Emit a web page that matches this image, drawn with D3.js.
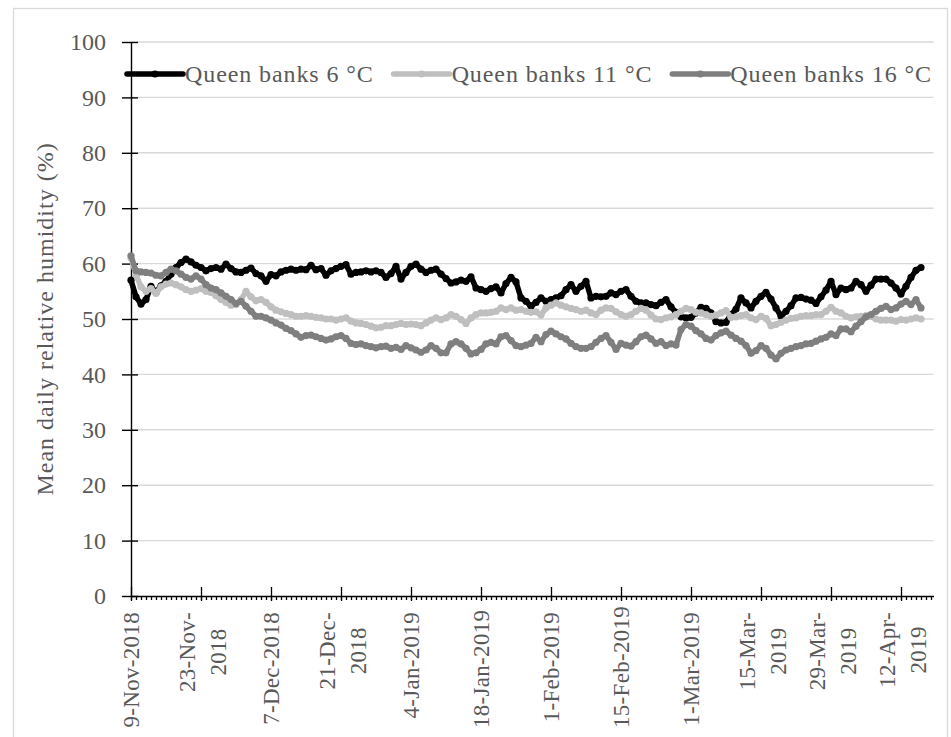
<!DOCTYPE html>
<html>
<head>
<meta charset="utf-8">
<script src="https://cdn.jsdelivr.net/npm/d3@7"></script>
<style>
  html, body { margin: 0; padding: 0; background: #ffffff; }
  svg { display: block; font-family: "Liberation Serif", "Times New Roman", serif; }
</style>
</head>
<body>
<svg id="chart" width="951" height="737"></svg>
<script>
// Daily series, one value per day starting on the first date below
const firstDay = "2018-11-09";
const seriesNames = ["Queen banks 6 °C", "Queen banks 11 °C", "Queen banks 16 °C"];

const rh6 = [
  57.0, 54.0, 52.7, 53.5, 55.9, 54.8, 56.0, 56.8, 58.1, 59.3,
  60.2, 60.8, 60.3, 59.7, 59.3, 58.7, 59.1, 59.3, 59.0, 59.9,
  59.1, 58.5, 58.4, 58.8, 59.2, 58.2, 57.8, 56.8, 58.0, 57.8,
  58.5, 58.8, 59.0, 58.8, 59.0, 58.9, 59.7, 58.9, 59.1, 57.9,
  58.7, 59.1, 59.5, 59.8, 58.1, 58.4, 58.5, 58.7, 58.5, 58.7,
  58.4, 57.5, 58.2, 59.5, 57.2, 58.4, 59.5, 59.9, 59.0, 58.4,
  58.8, 59.0, 58.1, 57.3, 56.5, 56.7, 57.0, 56.8, 57.6, 55.6,
  55.3, 55.0, 55.5, 55.8, 54.7, 56.4, 57.5, 56.7, 53.8, 53.2,
  52.3, 53.0, 53.8, 53.2, 53.5, 53.8, 54.2, 55.3, 56.2, 55.0,
  55.9, 56.8, 53.8, 54.1, 54.0, 54.1, 54.7, 54.4, 55.0, 55.3,
  54.1, 53.2, 52.9, 52.9, 52.6, 52.4, 53.0, 53.5, 52.2, 51.2,
  50.4, 50.2, 50.3, 51.1, 52.1, 51.9, 51.1, 49.5, 49.3, 49.4,
  50.8, 51.8, 53.8, 52.9, 52.0, 53.2, 54.1, 54.8, 53.6, 52.0,
  50.5, 51.4, 52.4, 53.8, 53.9, 53.6, 53.4, 52.8, 54.0, 55.2,
  56.8, 54.4, 55.6, 55.3, 55.6, 56.8, 56.2, 55.0, 56.1, 57.2,
  57.2, 57.2, 56.5, 55.6, 54.5, 55.9, 57.5, 58.8, 59.3
];

const rh11 = [
  61.0, 58.0, 55.8, 55.0, 55.5, 54.6, 55.8, 56.3, 56.5, 56.2,
  55.8, 55.3, 55.0, 55.2, 55.5, 55.0, 54.8, 54.2, 53.5, 53.0,
  52.5, 52.6, 53.5, 55.0, 54.0, 53.3, 53.5, 53.0, 52.2, 51.6,
  51.3, 51.0, 50.8, 50.5, 50.5, 50.6, 50.5, 50.3, 50.2, 50.0,
  50.0, 49.8, 50.0, 50.2, 49.6, 49.3, 49.2, 49.0, 48.7, 48.4,
  48.5, 48.8, 48.8, 49.0, 49.2, 49.0, 49.1, 49.0, 48.8, 49.3,
  49.8, 50.2, 49.9, 50.2, 50.8, 50.5, 49.9, 49.2, 50.2, 50.8,
  51.1, 51.1, 51.2, 51.4, 52.0, 51.7, 52.0, 51.6, 51.7, 51.4,
  51.2, 51.3, 50.7, 52.0, 52.5, 52.9, 52.5, 52.2, 51.9, 51.7,
  51.4, 51.6, 51.1, 50.8, 51.6, 52.0, 51.9, 51.3, 50.8, 50.5,
  50.8, 51.4, 51.9, 51.6, 50.7, 50.0, 49.9, 50.2, 50.4, 50.8,
  51.4, 51.9, 51.7, 51.2, 51.1, 50.8, 50.5, 50.7, 51.1, 51.5,
  50.3, 50.4, 50.6, 50.8, 50.2, 49.9, 50.5, 50.1, 48.8, 49.0,
  49.4, 49.8, 50.1, 50.2, 50.5, 50.6, 50.6, 50.8, 50.8, 51.4,
  52.1, 51.4, 51.1, 50.5, 50.2, 50.4, 50.5, 50.6, 50.5, 50.0,
  49.8, 49.8, 49.8, 49.6, 49.9, 49.8, 50.0, 50.2, 50.0
];

const rh16 = [
  61.4, 58.7, 58.5, 58.4, 58.3, 57.9, 57.8, 58.4, 59.0, 58.7,
  58.1, 57.5, 57.2, 57.8, 57.2, 56.2, 55.6, 55.3, 54.7, 54.1,
  53.5, 52.8, 53.2, 52.3, 51.4, 50.5, 50.5, 50.2, 49.8, 49.3,
  48.9, 48.3, 47.9, 47.3, 46.7, 47.0, 47.1, 46.8, 46.5, 46.2,
  46.4, 46.8, 47.0, 46.5, 45.6, 45.4, 45.5, 45.2, 45.0, 44.8,
  45.0, 45.1, 44.7, 44.9, 44.5, 45.2, 44.8, 44.4, 44.0, 44.4,
  45.2, 44.7, 43.9, 43.9, 45.5, 45.9, 45.5, 44.7, 43.7, 43.9,
  44.5, 45.5, 45.8, 45.5, 46.8, 47.0, 46.1, 45.2, 45.0, 45.3,
  45.6, 46.7, 45.9, 47.2, 47.8, 47.3, 46.8, 46.4, 45.6, 45.0,
  44.7, 44.7, 45.0, 45.8, 46.5, 47.0, 45.8, 44.5, 45.6, 45.3,
  45.1, 45.9, 46.8, 47.1, 46.4, 45.6, 45.9, 45.2, 45.5, 45.3,
  48.1, 49.0, 48.7, 47.9, 47.3, 46.5, 46.2, 47.0, 47.5, 47.8,
  47.1, 46.5, 46.0, 45.2, 43.8, 44.3, 45.2, 44.7, 43.5, 42.8,
  43.8, 44.4, 44.7, 45.0, 45.2, 45.5, 45.6, 46.0, 46.4, 46.7,
  47.3, 47.0, 48.2, 48.2, 47.7, 48.7, 49.5, 50.4, 50.8, 51.4,
  51.9, 52.3, 51.7, 52.0, 52.7, 53.2, 52.6, 53.5, 52.0
];

const seriesColors = ["#000000", "#bfbfbf", "#7f7f7f"];

const yTicks = [0, 10, 20, 30, 40, 50, 60, 70, 80, 90, 100];
const yTitle = "Mean daily relative humidity (%)";

// Labelled dates on the time axis, with the line breaks used when they wrap
const tickDates = [
  "2018-11-09", "2018-11-23", "2018-12-07", "2018-12-21", "2019-01-04", "2019-01-18",
  "2019-02-01", "2019-02-15", "2019-03-01", "2019-03-15", "2019-03-29", "2019-04-12"
];
const tickLabels = [
  ["9-Nov-2018"], ["23-Nov-", "2018"], ["7-Dec-2018"], ["21-Dec-", "2018"],
  ["4-Jan-2019"], ["18-Jan-2019"], ["1-Feb-2019"], ["15-Feb-2019"],
  ["1-Mar-2019"], ["15-Mar-", "2019"], ["29-Mar-", "2019"], ["12-Apr-", "2019"]
];

// ---------------------------------------------------------------------------
const TEXT = "#595959";
const GRID = "#d9d9d9";
const FS = 24;
const FS_DATE = 23;
const LINE_W = 5.5;
const DOT_R = 3.6;

const svg = d3.select("#chart");
const parse = d3.utcParse("%Y-%m-%d");
const t0 = parse(firstDay);
const dates = rh6.map((_, i) => d3.utcDay.offset(t0, i));
const axisEnd = d3.utcHour.offset(d3.utcDay.offset(t0, 160), 12);

const plot = { left: 131, right: 933.5, top: 42, bottom: 596 };

const x = d3.scaleUtc().domain([t0, axisEnd]).range([plot.left, plot.right]);
const y = d3.scaleLinear().domain([0, 100]).range([plot.bottom, plot.top]);

// chart frame
svg.append("rect")
  .attr("x", 13.5).attr("y", 8.5)
  .attr("width", 934).attr("height", 760)
  .attr("fill", "#ffffff").attr("stroke", GRID).attr("stroke-width", 1.3);

// horizontal gridlines
svg.append("g")
  .selectAll("line")
  .data(yTicks.filter(v => v > 0))
  .join("line")
  .attr("x1", plot.left).attr("x2", plot.right)
  .attr("y1", d => y(d)).attr("y2", d => y(d))
  .attr("stroke", GRID).attr("stroke-width", 1.4);

// y axis: labels + outward ticks, then inward ticks
const yAxisG = svg.append("g").attr("transform", `translate(${plot.left},0)`);
yAxisG.call(d3.axisLeft(y).tickValues(yTicks).tickSize(9).tickSizeOuter(0).tickPadding(16));
yAxisG.append("g").call(d3.axisRight(y).tickValues(yTicks).tickSize(7).tickSizeOuter(0).tickFormat(""))
  .select(".domain").remove();
yAxisG.selectAll("text")
  .attr("font-family", "Liberation Serif, serif")
  .attr("font-size", FS).attr("fill", TEXT);
yAxisG.selectAll("line").attr("stroke", "#000").attr("stroke-width", 1.4);
yAxisG.select(".domain").attr("stroke", "#000").attr("stroke-width", 1.4);

// x axis: daily minor ticks and crossing major ticks
const allDays = d3.utcDay.range(t0, d3.utcDay.offset(t0, 161));
const majorDates = tickDates.map(parse);
const xAxisG = svg.append("g").attr("transform", `translate(0,${plot.bottom})`);
xAxisG.call(d3.axisBottom(x).tickValues(allDays).tickSize(4).tickSizeOuter(0).tickFormat(""));
xAxisG.append("g").call(d3.axisBottom(x).tickValues(majorDates).tickSize(5).tickFormat(""))
  .select(".domain").remove();
xAxisG.append("g").call(d3.axisTop(x).tickValues(majorDates).tickSize(9).tickFormat(""))
  .select(".domain").remove();
xAxisG.selectAll("line").attr("stroke", "#000").attr("stroke-width", 1.3);
xAxisG.select(".domain").attr("stroke", "#000").attr("stroke-width", 1.4);

// rotated date labels
const labelTop = 612;
const labelBottomLimit = 728;
const lineGap = 31;
majorDates.forEach((d, i) => {
  const lines = tickLabels[i];
  const g = svg.append("g").attr("font-size", FS_DATE).attr("fill", TEXT).attr("letter-spacing", 0.3);
  if (lines.length === 1) {
    const t = g.append("text").attr("text-anchor", "end").attr("x", 0).attr("y", 8).text(lines[0]);
    const len = t.node().getComputedTextLength();
    const top = Math.min(labelTop, labelBottomLimit - len);
    g.attr("transform", `translate(${x(d)},${top}) rotate(-90)`);
  } else {
    const t1 = g.append("text").attr("text-anchor", "end").attr("x", 0).attr("y", 8 - lineGap / 2 + 1.5).text(lines[0]);
    const len1 = t1.node().getComputedTextLength();
    g.append("text").attr("text-anchor", "middle").attr("x", -len1 / 2)
      .attr("y", 8 + lineGap / 2 + 1.5).text(lines[1]);
    g.attr("transform", `translate(${x(d)},${labelTop}) rotate(-90)`);
  }
});

// y axis title
svg.append("text")
  .attr("transform", `translate(53,${(plot.top + plot.bottom) / 2}) rotate(-90)`)
  .attr("text-anchor", "middle")
  .attr("font-size", FS).attr("fill", TEXT)
  .attr("letter-spacing", 1)
  .text(yTitle);

// series lines with point markers
const allSeries = [rh6, rh11, rh16];
const line = d3.line().x((d, i) => x(dates[i])).y(d => y(d));
allSeries.forEach((vals, k) => {
  const g = svg.append("g");
  g.append("path")
    .attr("d", line(vals))
    .attr("fill", "none")
    .attr("stroke", seriesColors[k])
    .attr("stroke-width", LINE_W)
    .attr("stroke-linejoin", "round")
    .attr("stroke-linecap", "round");
  g.selectAll("circle")
    .data(vals)
    .join("circle")
    .attr("cx", (d, i) => x(dates[i]))
    .attr("cy", d => y(d))
    .attr("r", DOT_R)
    .attr("fill", seriesColors[k]);
});

// legend, left-aligned across the top of the plot
const legendY = 74;
const sampleW = 56;
const legend = svg.append("g");
const items = seriesNames.map((name, k) => {
  const g = legend.append("g");
  g.append("line").attr("x1", 0).attr("x2", sampleW).attr("y1", 0).attr("y2", 0)
    .attr("stroke", seriesColors[k]).attr("stroke-width", LINE_W).attr("stroke-linecap", "round");
  g.append("circle").attr("cx", sampleW / 2).attr("cy", 0).attr("r", DOT_R).attr("fill", seriesColors[k]);
  const t = g.append("text").attr("x", sampleW + 2).attr("y", 8)
    .attr("font-size", FS).attr("fill", TEXT).attr("letter-spacing", 0.9).text(name);
  return { g, w: sampleW + 2 + t.node().getComputedTextLength() };
});
const itemGap = 20;
let lx = 127;
items.forEach(it => {
  it.g.attr("transform", `translate(${lx},${legendY})`);
  lx += it.w + itemGap;
});
</script>
</body>
</html>
